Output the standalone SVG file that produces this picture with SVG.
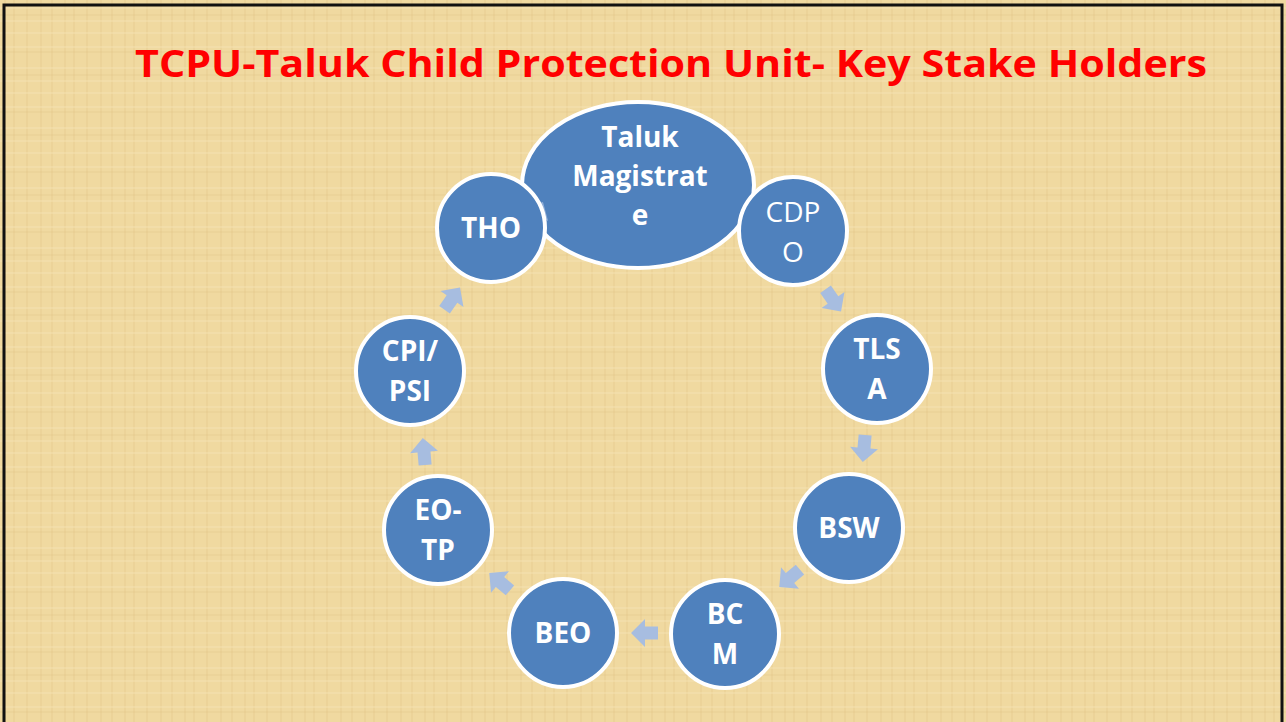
<svg xmlns="http://www.w3.org/2000/svg" width="1286" height="722" viewBox="0 0 1286 722">
<defs>
<pattern id="tex" width="60" height="60" patternUnits="userSpaceOnUse">
<rect width="60" height="60" fill="#f0d9a0"/>
<path d="M5 0V60M14 0V60M27 0V60M41 0V60M52 0V60" stroke="#e2c587" stroke-width="1" opacity="0.6"/>
<path d="M0 8H60M0 21H60M0 33H60M0 47H60" stroke="#f6e6b8" stroke-width="1.2" opacity="0.7"/>
<path d="M0 15H60M0 52H60" stroke="#dcbd7e" stroke-width="1" opacity="0.4"/>
</pattern>
<polygon id="arr" points="-13,-6.5 0,-6.5 0,-14 14,0 0,14 0,6.5 -13,6.5"/>
</defs>
<style>
.node{fill:#4f81bd;stroke:#ffffff;stroke-width:4}
.lbl{font-family:"Open Sans","Liberation Sans",sans-serif;font-weight:bold;font-size:28px;fill:#ffffff;text-anchor:middle}
.thin{font-weight:normal}
.arrow{fill:#a7bde0}
</style>
<rect width="1286" height="722" fill="url(#tex)"/>
<rect x="4" y="5" width="1278" height="730" fill="none" stroke="#111" stroke-width="3"/>
<text x="671" y="77" font-family="'Open Sans','Liberation Sans',sans-serif" font-weight="bold" font-size="38" fill="#ff0000" text-anchor="middle" textLength="1072" lengthAdjust="spacingAndGlyphs">TCPU-Taluk Child Protection Unit- Key Stake Holders</text>
<g id="taluk-magistrate"><ellipse class="node" cx="638" cy="185" rx="116" ry="83"/><text class="lbl" x="640" y="147">Taluk</text><text class="lbl" x="640" y="186">Magistrat</text><text class="lbl" x="640" y="225">e</text></g>
<g id="connectors">
<use href="#arr" class="arrow" transform="translate(536,214) rotate(-60)" opacity="0.75"/>
<use href="#arr" class="arrow" transform="translate(833,300) rotate(55)"/>
<use href="#arr" class="arrow" transform="translate(864,448) rotate(95)"/>
<use href="#arr" class="arrow" transform="translate(790,578) rotate(140)"/>
<use href="#arr" class="arrow" transform="translate(645,633) rotate(180)"/>
<use href="#arr" class="arrow" transform="translate(500,582) rotate(-140)"/>
<use href="#arr" class="arrow" transform="translate(424,452) rotate(-95)"/>
<use href="#arr" class="arrow" transform="translate(452,299) rotate(-55)"/>
</g>
<g id="tho"><circle class="node" cx="491" cy="228" r="54"/><text class="lbl" x="491" y="238">THO</text></g>
<g id="cdpo"><circle class="node" cx="793" cy="231" r="54"/><text class="lbl thin" x="793" y="222">CDP</text><text class="lbl thin" x="793" y="262">O</text></g>
<g id="tlsa"><circle class="node" cx="877" cy="369" r="54"/><text class="lbl" x="877" y="359">TLS</text><text class="lbl" x="877" y="399">A</text></g>
<g id="bsw"><circle class="node" cx="849" cy="528" r="54"/><text class="lbl" x="849" y="538">BSW</text></g>
<g id="bcm"><circle class="node" cx="725" cy="634" r="54"/><text class="lbl" x="725" y="624">BC</text><text class="lbl" x="725" y="664">M</text></g>
<g id="beo"><circle class="node" cx="563" cy="633" r="54"/><text class="lbl" x="563" y="643">BEO</text></g>
<g id="eo-tp"><circle class="node" cx="438" cy="530" r="54"/><text class="lbl" x="438" y="520">EO-</text><text class="lbl" x="438" y="560">TP</text></g>
<g id="cpi-psi"><circle class="node" cx="410" cy="371" r="54"/><text class="lbl" x="410" y="361">CPI/</text><text class="lbl" x="410" y="401">PSI</text></g>
</svg>
